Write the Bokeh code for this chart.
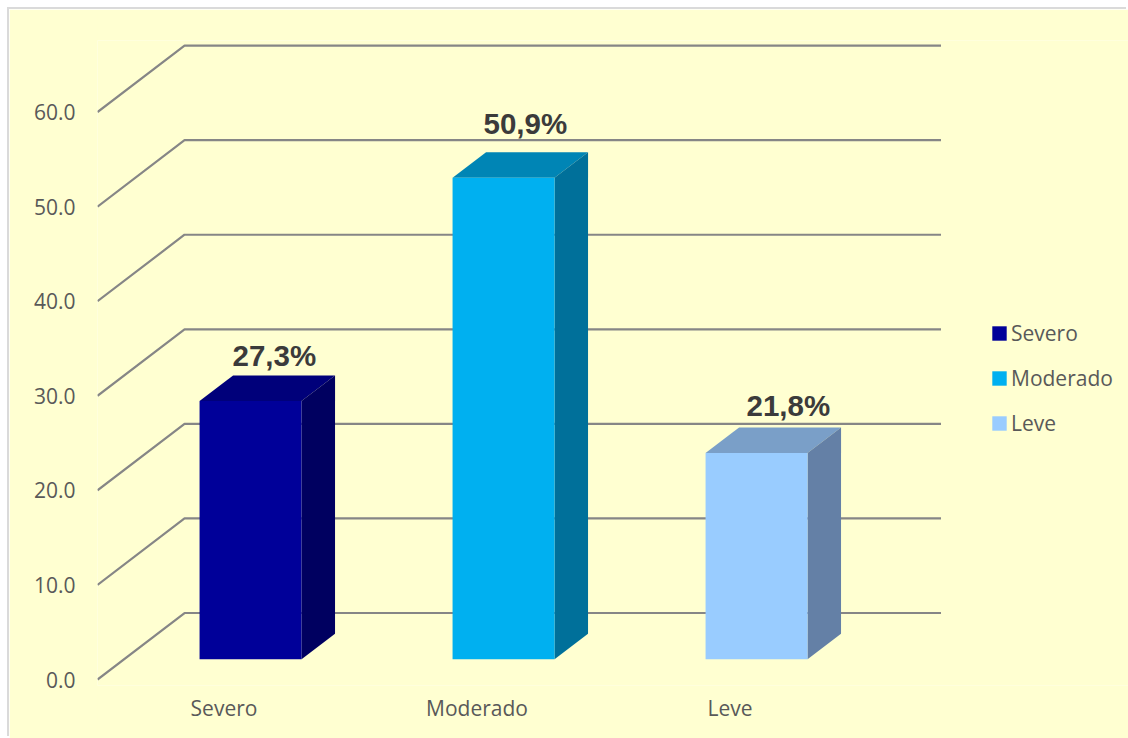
from bokeh.plotting import figure
from bokeh.models import (ColumnDataSource, FixedTicker, Legend, LegendItem,
                          NumeralTickFormatter, Range1d)
from bokeh.core.properties import value
from bokeh.embed import file_html
from bokeh.resources import INLINE

# Chart data
categories = ["Severo", "Moderado", "Leve"]
percentages = [27.3, 50.9, 21.8]
value_ticks = [0, 10, 20, 30, 40, 50, 60]

# Bar colours: front face, top face, side face
front_colors = ["#000099", "#00B0F0", "#99CCFF"]
top_colors = ["#00007A", "#0085B5", "#7A9FC8"]
side_colors = ["#000060", "#00709A", "#6480A6"]

# Offsets of the value labels, in pixels
label_dx = [7, 5, 15]
label_dy = [-29, -38, -31]

# Oblique projection of the chart's depth axis, in axis units
DEPTH_X = 0.344
DEPTH_Y = 7.03
FRONT_FRACTION = 0.305
BACK_FRACTION = 0.69
BAR_WIDTH = 0.403
PANEL = "#FFFFD1"
GRID = "#868686"
TEXT = "#595959"

X_START = -0.5
X_END = X_START + (1128 - 97) / 253
WALL_END = 2.49

p = figure(width=1119, height=729, output_backend="svg", toolbar_location=None,
           x_range=Range1d(X_START, X_END), y_range=Range1d(-0.634, 67.57),
           min_border_left=88, min_border_right=0, min_border_top=31,
           min_border_bottom=53, margin=(9, 0, 0, 9),
           background_fill_color=PANEL, border_fill_color=PANEL,
           outline_line_color=None,
           styles={"box-shadow": "-2px -2px 0 #DADADA"})
p.grid.visible = False

# Walls of the 3D box: one bent line per value tick
for v in value_ticks:
    p.line([X_START, X_START + DEPTH_X, WALL_END + DEPTH_X], [v, v + DEPTH_Y, v + DEPTH_Y],
           line_color=GRID, line_width=2.2)

# Bars with their front, top and side faces
items = []
for i, (cat, pct) in enumerate(zip(categories, percentages)):
    left = i - BAR_WIDTH / 2
    right = i + BAR_WIDTH / 2
    fx, fy = DEPTH_X * FRONT_FRACTION, DEPTH_Y * FRONT_FRACTION
    bx, by = DEPTH_X * (BACK_FRACTION - FRONT_FRACTION), DEPTH_Y * (BACK_FRACTION - FRONT_FRACTION)
    base = fy
    top = fy + pct
    p.patch([left + fx, right + fx, right + fx + bx, left + fx + bx],
            [top, top, top + by, top + by],
            fill_color=top_colors[i], line_color=None)
    p.patch([right + fx, right + fx + bx, right + fx + bx, right + fx],
            [base, base + by, top + by, top],
            fill_color=side_colors[i], line_color=None)
    front = p.quad(left=left + fx, right=right + fx, bottom=base, top=top,
                   fill_color=front_colors[i], line_color=None)
    items.append(LegendItem(label=cat, renderers=[front]))

# Value labels above each bar
label_source = ColumnDataSource(dict(
    x=[i + DEPTH_X * BACK_FRACTION - DEPTH_X * (BACK_FRACTION - FRONT_FRACTION) / 2
       for i in range(len(percentages))],
    y=[pct + DEPTH_Y * FRONT_FRACTION for pct in percentages],
    text=[f"{pct:.1f}".replace(".", ",") + "%" for pct in percentages],
    dx=label_dx, dy=label_dy,
))
p.text(x="x", y="y", text="text", x_offset="dx", y_offset="dy", source=label_source,
       text_font=value("Liberation Sans"), text_font_style="bold",
       text_font_size="29.5px", text_color="#3B3B3B",
       text_align="center", text_baseline="bottom")

# Axes
p.yaxis.ticker = FixedTicker(ticks=value_ticks)
p.yaxis.formatter = NumeralTickFormatter(format="0.0")
p.xaxis.ticker = FixedTicker(ticks=list(range(len(categories))))
p.xaxis.major_label_overrides = {i: c for i, c in enumerate(categories)}
for ax, standoff in ((p.yaxis[0], 16), (p.xaxis[0], 2)):
    ax.axis_line_color = None
    ax.major_tick_line_color = None
    ax.minor_tick_line_color = None
    ax.major_label_standoff = standoff
    ax.major_label_text_font = "Open Sans"
    ax.major_label_text_font_size = "21px"
    ax.major_label_text_color = TEXT
    ax.major_label_text_font_style = "normal"

# Legend to the right of the box
legend = Legend(items=items, location=(893, 248), background_fill_alpha=0,
                border_line_color=None, padding=0, margin=0, spacing=17,
                glyph_width=18, glyph_height=18, label_standoff=3,
                label_text_font="Open Sans", label_text_font_size="21px",
                label_text_color=TEXT)
p.add_layout(legend, "center")

open("out.html", "w").write(file_html(p, INLINE))
